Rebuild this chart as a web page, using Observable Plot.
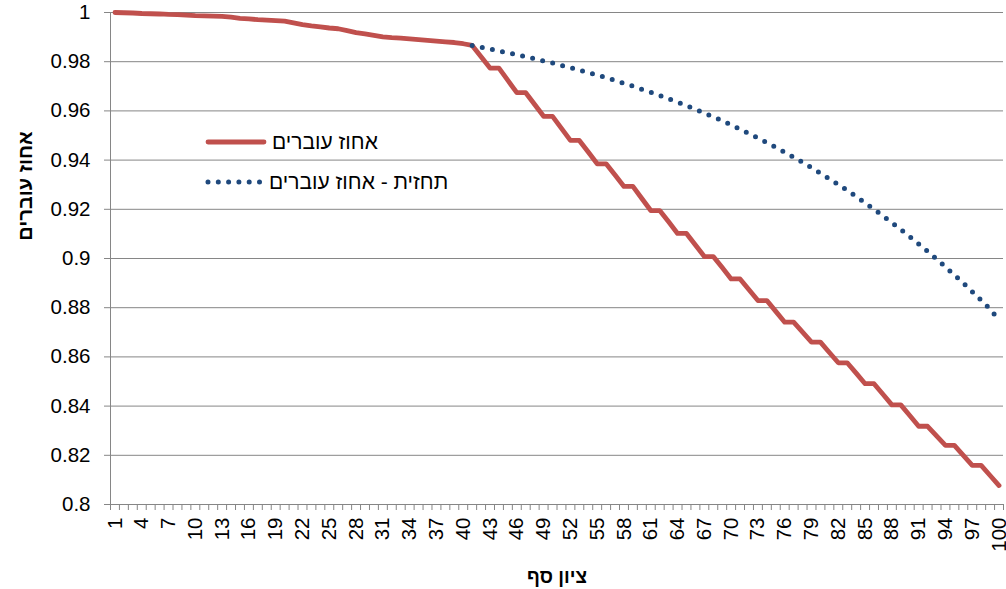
<!DOCTYPE html>
<html>
<head>
<meta charset="utf-8">
<script src="https://cdn.jsdelivr.net/npm/d3@7"></script>
<script src="https://cdn.jsdelivr.net/npm/@observablehq/plot@0.6"></script>
<style>
  html, body { margin: 0; padding: 0; background: #fff; }
  #wrap { position: relative; width: 1006px; height: 589px; overflow: hidden; font-family: Arial, "Liberation Sans", "DejaVu Sans", sans-serif; }
  #wrap > svg { position: absolute; left: 0; top: 0; }
  .ytitle { position: absolute; left: -75px; top: 175px; width: 200px; text-align: center; transform: rotate(-90deg); font-weight: bold; font-size: 20px; color: #000; line-height: 22px; }
  .xtitle { position: absolute; left: 457px; top: 566px; width: 200px; text-align: center; font-weight: bold; font-size: 19px; color: #000; line-height: 22px; }
  .leg { position: absolute; display: flex; align-items: center; font-size: 21px; color: #000; white-space: nowrap; line-height: 24px; }
  #wrap .leg svg { position: static; display: block; }
</style>
</head>
<body>
<div id="wrap"></div>
<script>
// ---- data ----
const categories = d3.range(1, 101); // ציון סף 1..100
const passRate = [
  1.0000, 0.9999, 0.9998, 0.9996, 0.9995, 0.9994, 0.9992, 0.9991, 0.9989, 0.9987,
  0.9986, 0.9985, 0.9984, 0.9981, 0.9976, 0.9974, 0.9971, 0.9969, 0.9967, 0.9965,
  0.9958, 0.9951, 0.9946, 0.9942, 0.9937, 0.9934, 0.9926, 0.9918, 0.9913, 0.9907,
  0.9901, 0.9898, 0.9896, 0.9893, 0.9890, 0.9887, 0.9884, 0.9881, 0.9878, 0.9873,
  0.9866, 0.9820, 0.9774, 0.9774, 0.9724, 0.9674, 0.9674, 0.9626, 0.9578, 0.9578,
  0.9529, 0.9480, 0.9480, 0.9433, 0.9385, 0.9385, 0.9339, 0.9293, 0.9293, 0.9244,
  0.9195, 0.9195, 0.9149, 0.9102, 0.9102, 0.9055, 0.9008, 0.9008, 0.8963, 0.8917,
  0.8917, 0.8873, 0.8829, 0.8829, 0.8785, 0.8741, 0.8741, 0.8701, 0.8660, 0.8660,
  0.8618, 0.8576, 0.8576, 0.8534, 0.8491, 0.8491, 0.8448, 0.8405, 0.8405, 0.8362,
  0.8318, 0.8318, 0.8279, 0.8240, 0.8240, 0.8200, 0.8159, 0.8159, 0.8118, 0.8077
];
const forecastStart = 41;
const forecast = [
  0.9866, 0.9859, 0.9852, 0.9844, 0.9836, 0.9829, 0.9820, 0.9812, 0.9803, 0.9795,
  0.9785, 0.9776, 0.9766, 0.9756, 0.9746, 0.9735, 0.9724, 0.9712, 0.9701, 0.9688,
  0.9676, 0.9663, 0.9649, 0.9636, 0.9621, 0.9607, 0.9591, 0.9576, 0.9560, 0.9543,
  0.9526, 0.9508, 0.9490, 0.9471, 0.9452, 0.9432, 0.9412, 0.9391, 0.9369, 0.9347,
  0.9324, 0.9301, 0.9277, 0.9252, 0.9226, 0.9200, 0.9173, 0.9146, 0.9118, 0.9089,
  0.9059, 0.9029, 0.8998, 0.8966, 0.8933, 0.8900, 0.8865, 0.8830, 0.8794, 0.8750
];
const xTickLabels = [1,4,7,10,13,16,19,22,25,28,31,34,37,40,43,46,49,52,55,58,61,64,67,70,73,76,79,82,85,88,91,94,97,100];
const yTicks = [0.8, 0.82, 0.84, 0.86, 0.88, 0.9, 0.92, 0.94, 0.96, 0.98, 1];
const seriesNames = ["אחוז עוברים", "תחזית - אחוז עוברים"];
const xTitle = "ציון סף";
const yTitle = "אחוז עוברים";

// ---- build tables ----
const actual = categories.map((c, i) => ({x: c, y: passRate[i]}));
const predicted = forecast.map((v, i) => ({x: forecastStart + i, y: v}));
const boundaries = d3.range(0, categories.length + 1).map(i => i + 0.5);

const red = "#C0504D", blue = "#1F497D", gridC = "#868686";

const chart = Plot.plot({
  width: 1006,
  height: 589,
  marginLeft: 110,
  marginRight: 3,
  marginTop: 12,
  marginBottom: 85,
  style: {fontFamily: 'Arial, "Liberation Sans", sans-serif', background: "transparent"},
  x: {type: "linear", domain: [0.5, categories.length + 0.5]},
  y: {domain: [0.8, 1]},
  marks: [
    Plot.gridY(yTicks, {stroke: gridC, strokeOpacity: 1, strokeWidth: 1}),
    Plot.ruleX([0.5], {stroke: gridC, strokeWidth: 1}),
    Plot.axisY(yTicks, {tickSize: 6, tickPadding: 14, stroke: gridC, fontSize: 20.5, fill: "#000", tickFormat: d => String(d), label: null}),
    Plot.axisX(boundaries, {tickSize: 6, stroke: gridC, tickFormat: () => "", label: null}),
    Plot.axisX(xTickLabels, {tickSize: 0, tickPadding: 13, tickRotate: -90, fontSize: 20.5, fill: "#000", tickFormat: d => String(d), label: null}),
    Plot.line(actual, {x: "x", y: "y", stroke: red, strokeWidth: 4.8, strokeLinejoin: "round", strokeLinecap: "round"}),
    Plot.line(predicted, {x: "x", y: "y", stroke: blue, strokeWidth: 5, strokeDasharray: "0 10.3", strokeLinecap: "round"})
  ]
});

const wrap = document.getElementById("wrap");
wrap.appendChild(chart);

function addDiv(cls, text) {
  const d = document.createElement("div");
  d.className = cls;
  d.textContent = text;
  wrap.appendChild(d);
  return d;
}
addDiv("ytitle", yTitle);
addDiv("xtitle", xTitle);

// legend
function legendItem(top, left, sampleSvg, label, gap) {
  const d = document.createElement("div");
  d.className = "leg";
  d.style.top = top + "px";
  d.style.left = left + "px";
  d.innerHTML = sampleSvg;
  const s = document.createElement("span");
  s.textContent = label;
  s.style.marginLeft = gap + "px";
  d.appendChild(s);
  wrap.appendChild(d);
}
legendItem(130, 203,
  `<svg width="66" height="24"><line x1="5" y1="12" x2="61" y2="12" stroke="${red}" stroke-width="4.8" stroke-linecap="round"/></svg>`,
  seriesNames[0], 3);
legendItem(170, 203,
  `<svg width="66" height="24"><line x1="5" y1="12" x2="63" y2="12" stroke="${blue}" stroke-width="5" stroke-dasharray="0 10.3" stroke-linecap="round"/></svg>`,
  seriesNames[1], 0);
</script>
</body>
</html>
